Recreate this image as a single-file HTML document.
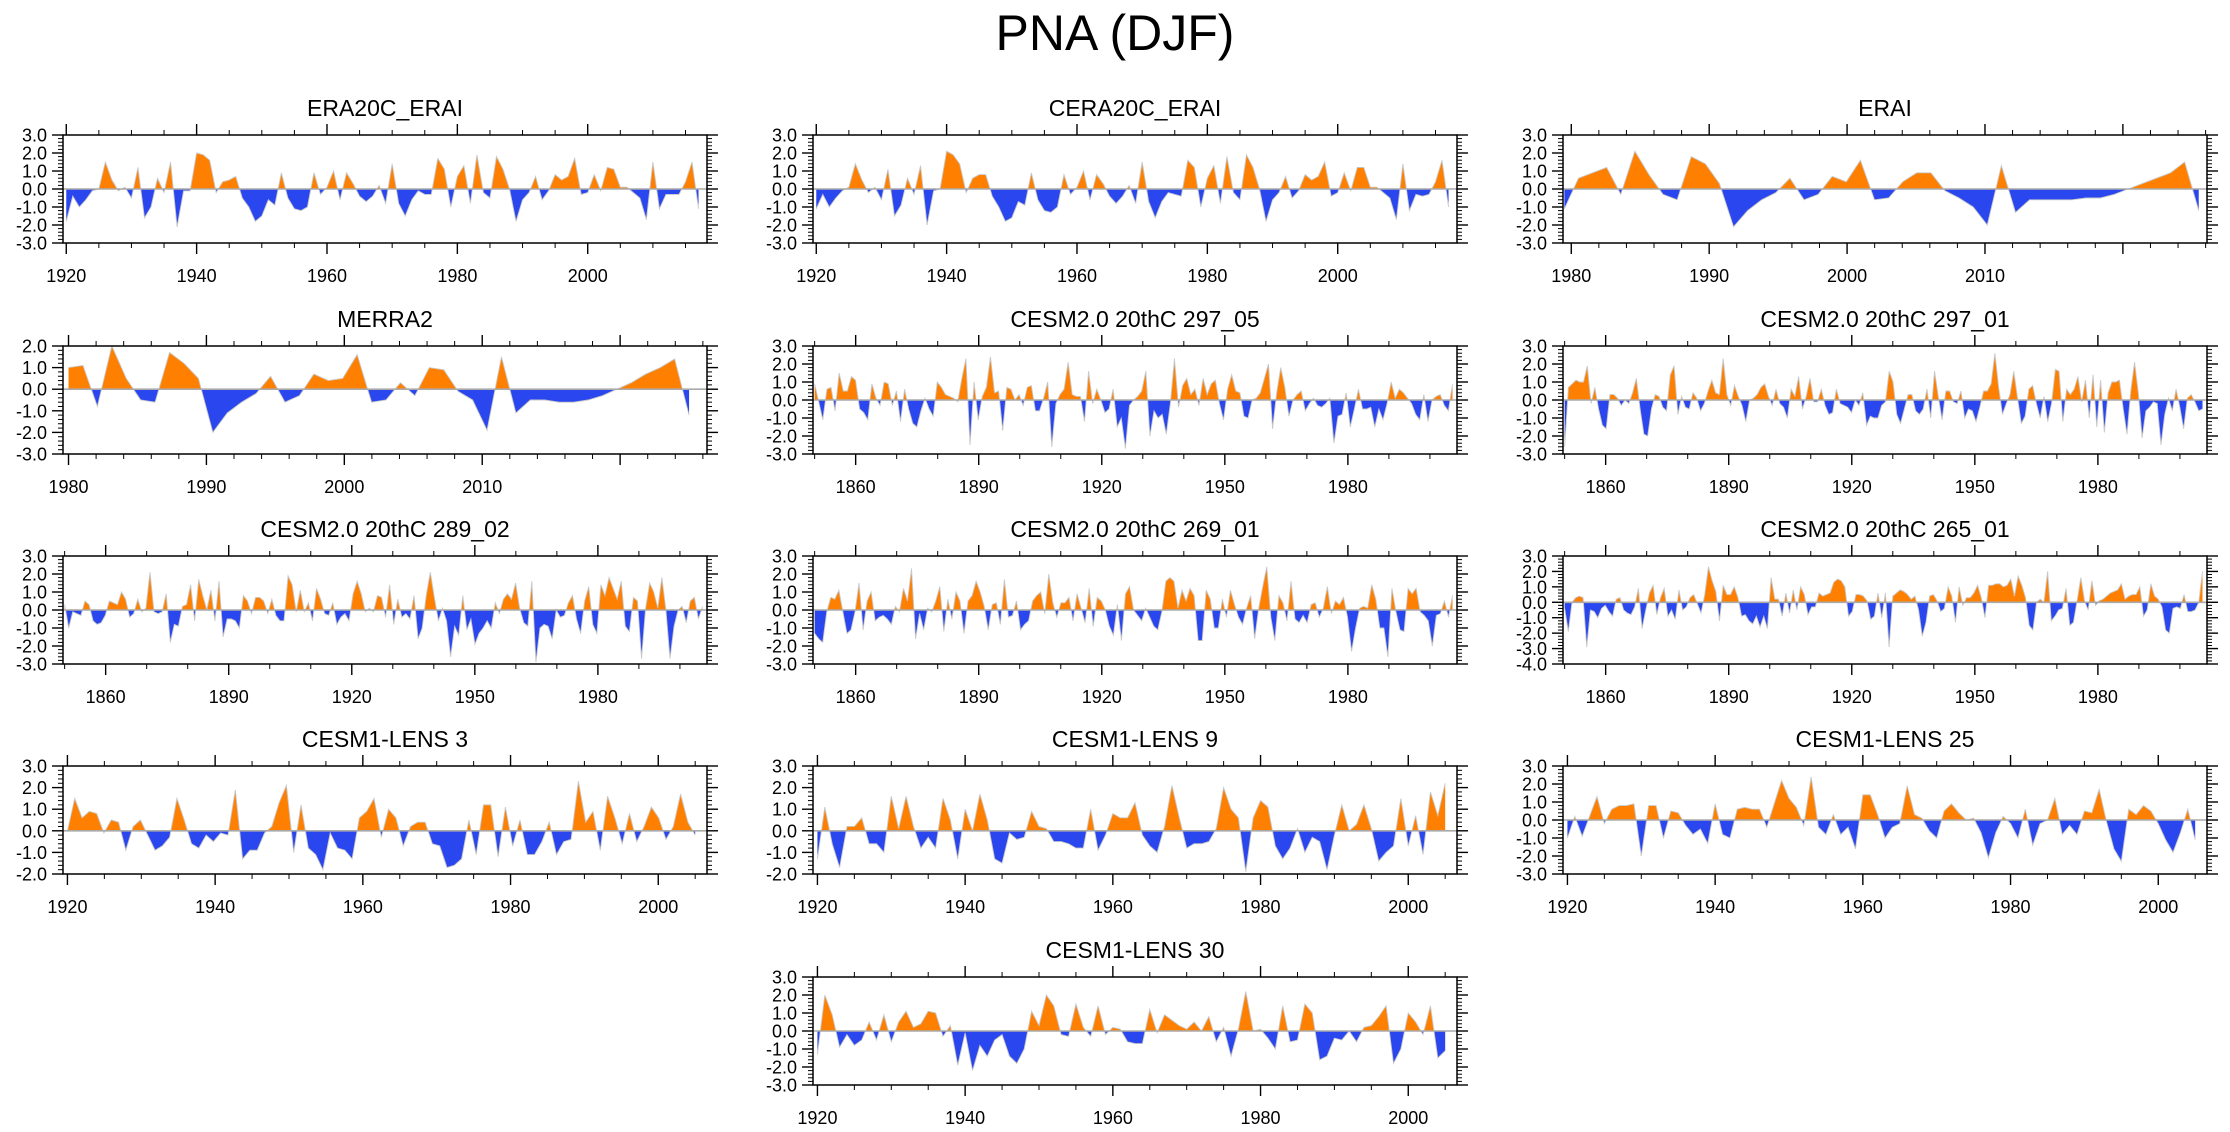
<!DOCTYPE html>
<html><head><meta charset="utf-8"><title>PNA (DJF)</title>
<style>
html,body{margin:0;padding:0;background:#fff;}
svg{display:block;font-family:"Liberation Sans",Arial,sans-serif;}
</style></head>
<body>
<svg id="fig" width="2230" height="1132" viewBox="0 0 2230 1132" xmlns="http://www.w3.org/2000/svg">
<rect width="2230" height="1132" fill="#fff"/>
<text x="1115" y="50" text-anchor="middle" font-size="50" fill="#000">PNA (DJF)</text>
</svg>
<script>
// ---------- data ----------
const era20cVals = [-1.8,-0.4,-1.0,-0.6,-0.1,0.0,1.5,0.5,-0.1,0.1,-0.5,1.2,-1.6,-1.0,0.6,-0.2,1.5,-2.1,-0.1,-0.1,2.0,1.9,1.6,-0.2,0.4,0.5,0.7,-0.5,-1.0,-1.8,-1.5,-0.6,-0.9,0.9,-0.5,-1.1,-1.2,-1.0,0.9,-0.3,0.1,1.0,-0.6,0.9,0.3,-0.4,-0.7,-0.4,0.2,-0.8,1.4,-0.8,-1.5,-0.6,-0.1,-0.3,-0.3,1.7,1.1,-1.0,0.7,1.3,-0.8,1.9,-0.2,-0.5,1.8,1.1,0.0,-1.8,-0.6,-0.2,0.7,-0.6,-0.1,0.8,0.5,0.7,1.7,-0.3,-0.2,0.8,-0.1,1.2,1.1,0.1,0.1,-0.2,-0.5,-1.7,1.5,-1.1,-0.3,-0.3,-0.3,0.4,1.5,-1.1];
const cera20cVals = [-1.1,-0.3,-1.0,-0.5,-0.1,0.1,1.4,0.5,-0.2,0.1,-0.6,1.1,-1.5,-0.9,0.6,-0.3,1.3,-2.0,-0.1,0.0,2.1,1.9,1.4,-0.2,0.6,0.8,0.8,-0.4,-1.0,-1.8,-1.6,-0.7,-0.9,0.9,-0.6,-1.2,-1.3,-1.0,0.8,-0.3,0.1,1.0,-0.6,0.8,0.3,-0.4,-0.8,-0.4,0.2,-0.8,1.5,-0.7,-1.6,-0.7,-0.2,-0.3,-0.4,1.6,1.2,-1.0,0.6,1.3,-0.8,1.8,-0.2,-0.6,1.9,1.2,0.0,-1.8,-0.6,-0.2,0.7,-0.5,-0.1,0.8,0.5,0.7,1.5,-0.4,-0.2,0.9,-0.1,1.2,1.2,0.1,0.1,-0.2,-0.5,-1.7,1.4,-1.2,-0.3,-0.4,-0.3,0.4,1.6,-1.0];
const eraiVals = [-1.1,0.6,0.9,1.2,-0.3,2.1,0.8,-0.3,-0.6,1.8,1.4,0.3,-2.1,-1.2,-0.6,-0.2,0.6,-0.6,-0.3,0.7,0.4,1.6,-0.6,-0.5,0.4,0.9,0.9,-0.1,-0.5,-1.0,-2.0,1.3,-1.3,-0.6,-0.6,-0.6,-0.6,-0.5,-0.5,-0.3,0.0,0.3,0.6,0.9,1.5,-1.2];
const merra2Vals = [1.0,1.1,-0.8,2.0,0.5,-0.5,-0.6,1.7,1.2,0.5,-2.0,-1.1,-0.6,-0.2,0.6,-0.6,-0.3,0.7,0.4,0.5,1.6,-0.6,-0.5,0.3,-0.3,1.0,0.9,-0.1,-0.5,-1.9,1.5,-1.1,-0.5,-0.5,-0.6,-0.6,-0.5,-0.3,0.0,0.3,0.7,1.0,1.4,-1.2];
const c297_05Vals = [0.9,-0.1,-1.1,0.6,0.7,-0.6,1.5,0.5,0.5,1.3,1.1,-0.5,-0.7,-1.1,0.9,0.1,-0.3,1.0,0.9,-0.3,0.5,-1.2,0.6,-0.5,-1.3,-1.5,-0.6,0.1,-0.5,-0.9,1.0,0.7,0.3,0.2,0.1,-0.1,1.2,2.3,-2.5,1.0,-1.1,0.2,0.7,2.4,0.4,0.5,-1.7,0.7,0.6,0.0,0.3,-0.3,0.7,0.8,-0.6,-0.6,0.1,1.0,-2.6,-0.2,0.3,0.6,2.1,0.3,0.2,0.2,-1.2,1.6,-0.2,0.6,0.0,-0.7,-0.5,0.6,-1.5,-1.0,-2.7,-0.3,0.0,0.2,0.5,1.6,-2.0,-0.6,-1.0,-0.8,-1.9,-0.2,2.3,-0.4,0.8,1.2,0.3,0.6,-0.3,1.2,0.3,0.9,1.1,-0.2,-1.1,0.6,1.4,0.5,0.4,-0.9,-1.0,0.0,0.1,0.4,1.2,2.0,-1.6,0.4,1.8,0.7,-0.9,0.0,0.3,0.5,-0.6,-0.2,0.1,-0.3,-0.4,-0.2,0.1,-2.4,-0.9,-0.8,0.4,-1.5,-0.5,0.6,-0.5,-0.5,-0.4,-1.5,-0.5,-1.1,-0.2,1.0,0.1,0.6,0.4,0.1,-0.2,-0.8,-1.1,0.3,-1.2,0.0,0.2,0.3,-0.3,-0.6,0.9];
const c297_01Vals = [-2.6,0.7,0.9,1.1,1.0,1.0,1.9,-0.2,0.7,-0.5,-1.4,-1.6,0.3,0.3,0.1,-0.3,0.0,-0.2,0.4,1.2,-0.5,-1.9,-2.0,-0.5,0.3,0.2,-0.4,-0.6,1.4,1.9,-0.8,0.2,-0.4,-0.5,0.4,0.1,-0.6,-0.2,0.5,1.1,0.4,0.3,2.3,0.3,-0.3,0.8,0.2,-0.3,-1.2,0.0,0.1,0.3,0.7,0.9,0.2,-0.3,0.6,-0.2,-0.4,-1.0,0.6,0.2,1.3,-0.5,0.2,1.2,-0.1,-0.1,0.6,-0.3,-0.8,-0.7,0.6,-0.2,-0.3,-0.4,-0.7,0.0,-0.3,0.4,-1.4,-0.9,-1.0,-1.0,-0.3,-0.1,1.6,1.0,-0.8,-1.3,-0.5,0.3,0.3,-0.6,-0.8,-0.5,0.6,-1.0,1.6,0.2,-1.1,0.5,0.5,-0.1,-0.2,0.5,-1.0,-0.5,-0.6,-1.2,-0.4,0.5,0.5,0.9,2.6,0.7,-0.8,-0.2,0.3,1.6,0.1,-1.3,-0.9,0.6,0.8,-0.2,-1.0,0.2,-1.2,-0.2,1.7,1.6,-1.2,0.6,0.3,0.6,1.3,-0.1,1.1,-1.0,1.4,-1.5,1.1,-1.8,0.4,1.0,1.0,1.1,-0.5,-1.9,0.5,2.1,0.4,-2.1,-0.6,-0.4,-0.1,-0.2,-2.5,-0.8,0.1,-0.6,0.6,-0.4,-1.6,0.1,0.3,-0.1,-0.6,-0.5];
const c289_02Vals = [0.3,-1.0,-0.1,-0.2,-0.3,0.5,0.3,-0.6,-0.8,-0.7,-0.3,0.5,0.4,0.3,1.0,0.6,-0.4,-0.2,0.6,-0.1,0.1,2.1,-0.1,-0.2,-0.1,0.9,-1.8,-0.8,-0.9,0.2,0.3,1.4,-0.6,1.7,0.8,0.0,1.1,-0.6,1.6,-1.5,-0.5,-0.5,-0.6,-1.0,0.8,0.5,-0.2,0.7,0.7,0.5,-0.2,0.6,-0.3,-0.6,-0.6,1.9,1.4,-0.1,1.1,-0.1,0.4,-0.6,1.2,0.6,-0.2,-0.3,0.4,-0.8,-0.4,-0.2,-0.6,0.9,1.6,0.9,-0.1,0.1,-0.1,0.8,0.7,-0.4,1.4,-0.8,0.6,-0.4,-0.2,-0.5,0.8,-1.6,-1.0,0.8,2.1,0.7,-0.6,0.1,-0.6,-2.6,-0.9,-1.4,0.8,-1.1,-0.5,-1.9,-1.3,-1.0,-0.6,-1.0,0.4,-0.2,0.6,0.9,0.6,1.5,0.1,-0.7,-0.9,1.6,-2.9,-1.0,-0.8,-0.9,-1.6,0.0,-0.4,-0.3,0.4,0.8,-0.5,-1.3,0.5,1.3,-0.8,-1.3,1.4,0.8,1.8,1.2,0.6,1.6,-0.9,-1.2,0.7,0.5,-2.7,0.1,1.5,1.0,0.1,1.8,0.0,-2.7,-0.9,0.0,0.2,-0.7,0.5,0.7,-0.5,0.2];
const c269_01Vals = [-1.3,-1.6,-1.8,-0.1,0.7,0.6,1.1,-0.1,-1.3,-1.1,-0.1,1.5,-1.1,0.5,1.0,-0.6,-0.4,-0.3,-0.5,-0.8,0.2,-0.1,1.2,0.5,2.3,-1.6,-0.2,-1.1,0.1,-0.1,0.5,1.3,-1.2,0.6,-0.5,1.0,0.5,-1.3,0.5,0.8,1.6,1.0,0.2,-1.1,0.3,0.4,-0.8,1.7,-0.4,-0.3,0.5,-1.1,-0.8,-0.6,0.5,0.8,1.0,-0.2,2.0,0.4,-0.4,0.4,0.4,0.7,-0.6,0.9,0.1,-0.7,1.2,-0.9,0.7,0.5,0.0,-0.9,-1.4,0.3,-1.7,0.9,1.3,0.0,-0.3,-0.6,0.1,-0.4,-0.9,-1.1,-0.1,1.6,1.8,1.6,0.1,1.1,0.5,1.2,0.8,-1.7,-1.7,1.1,0.6,-1.0,-1.0,0.6,-0.4,1.1,0.3,-0.4,-0.8,0.1,0.8,-1.6,0.1,1.3,2.4,-0.4,-1.7,0.8,0.4,-0.6,1.6,-0.5,-0.7,-0.3,-0.7,0.3,0.4,-0.4,0.1,1.3,-0.2,0.5,0.3,0.7,-0.4,-2.3,-1.0,0.1,0.2,0.1,1.4,0.6,-1.0,-1.0,-2.6,1.2,-0.1,-1.1,-1.2,1.2,0.9,1.2,-0.1,-0.3,-0.6,-2.0,-0.3,-0.2,0.5,-0.4,0.8];
const c265_01Vals = [-0.4,-1.9,0.0,0.3,0.4,0.3,-2.9,-0.5,-0.6,-1.0,-0.4,-0.2,-0.6,-0.9,0.2,0.3,-0.5,-0.7,-0.8,-0.3,0.9,-1.7,-0.5,0.6,1.1,-0.8,0.3,0.9,-0.9,-0.5,-1.1,0.8,-0.5,-0.3,0.3,0.5,-0.1,-0.7,0.5,2.3,1.4,0.7,-1.2,1.1,0.5,0.5,1.0,0.3,-0.9,-0.8,-1.2,-1.4,-0.9,-1.6,-0.9,-1.7,1.6,0.2,0.2,-0.9,0.6,-0.7,0.8,-0.5,1.0,0.5,-0.8,-0.3,-0.3,0.6,0.4,0.5,0.6,1.3,1.5,1.4,1.0,-0.9,-0.6,0.5,0.5,0.4,0.1,-1.1,-0.9,0.6,-1.0,0.6,-2.9,0.4,0.6,0.8,0.7,0.5,0.2,0.4,-0.5,-2.2,-1.3,0.4,0.5,0.1,-0.6,-0.4,1.0,0.4,-1.3,1.0,-0.2,0.3,0.3,0.6,1.1,0.3,-1.0,1.1,1.1,1.2,1.2,1.0,1.1,1.5,0.4,1.7,1.1,0.3,-1.5,-1.8,0.0,0.2,0.0,2.0,-1.2,-0.9,-0.5,-0.4,0.9,-1.5,-1.3,0.1,1.6,0.1,-0.5,1.4,-0.2,0.1,0.2,0.4,0.6,0.7,0.8,1.2,0.2,0.4,0.5,0.5,1.0,-0.9,-0.5,1.2,0.4,0.2,-0.3,-1.8,-2.0,-0.4,-0.3,-0.4,0.5,-0.6,-0.6,-0.5,0.0,2.0];
const lens3Vals = [0.0,1.5,0.6,0.9,0.8,-0.1,0.5,0.4,-0.9,0.2,0.5,-0.2,-0.9,-0.7,-0.3,1.5,0.5,-0.6,-0.8,-0.2,-0.5,-0.1,-0.2,1.9,-1.3,-0.9,-0.9,-0.1,0.2,1.3,2.1,-1.0,1.2,-0.8,-1.1,-1.8,-0.1,-0.8,-0.9,-1.3,0.6,0.9,1.5,-0.3,1.0,0.6,-0.7,0.2,0.4,0.4,-0.6,-0.7,-1.7,-1.6,-1.3,0.5,-1.1,1.2,1.2,-1.2,1.1,-0.7,0.5,-1.1,-1.1,-0.5,0.4,-1.1,-0.5,-0.4,2.3,0.4,0.9,-0.9,1.6,0.6,-0.6,0.8,-0.5,0.2,1.1,0.6,-0.4,0.2,1.7,0.4,-0.2];
const lens9Vals = [-1.3,1.1,-0.6,-1.7,0.2,0.2,0.6,-0.6,-0.6,-1.0,1.6,0.1,1.6,0.2,-0.8,-0.3,-0.8,1.5,0.5,-1.3,1.0,0.0,1.7,0.5,-1.3,-1.5,-0.1,-0.4,-0.3,0.9,0.2,0.1,-0.5,-0.5,-0.6,-0.8,-0.8,1.0,-0.9,-0.2,0.8,0.6,0.6,1.3,-0.2,-0.7,-1.0,0.2,2.1,0.6,-0.8,-0.6,-0.6,-0.5,0.1,2.0,1.0,0.6,-1.9,0.6,1.4,1.1,-0.7,-1.3,-0.8,0.1,-1.0,-0.3,-0.5,-1.8,-0.2,1.2,0.0,0.3,1.2,0.1,-1.4,-1.0,-0.7,1.5,-0.7,0.7,-1.1,1.8,0.7,2.2];
const lens25Vals = [-1.0,0.2,-0.9,0.2,1.3,-0.2,0.6,0.8,0.8,0.9,-2.0,0.8,0.8,-1.0,0.5,0.4,-0.3,-0.8,-0.5,-1.3,0.9,-0.8,-1.0,0.6,0.7,0.6,0.6,-0.4,0.9,2.2,1.2,0.7,-0.3,2.4,-0.4,-0.8,0.3,-0.8,-0.4,-1.6,1.4,1.4,0.3,-1.0,-0.4,-0.2,1.9,0.3,0.1,-0.6,-1.0,0.5,0.9,0.4,0.0,0.1,-0.7,-2.1,-0.7,0.2,-0.2,-1.0,0.6,-1.4,-0.2,0.0,1.2,-0.8,-0.3,-0.8,0.5,0.4,1.7,-0.1,-1.6,-2.3,0.6,0.3,0.8,0.5,-0.2,-1.1,-1.8,-0.7,0.6,-1.1];
const lens30Vals = [-1.3,2.0,0.9,-0.9,-0.2,-0.8,-0.5,0.5,-0.5,0.9,-0.6,0.5,1.1,0.2,0.4,1.1,1.0,-0.3,0.3,-1.9,-0.1,-2.2,-0.8,-1.4,-0.5,-0.2,-1.4,-1.8,-1.0,1.1,0.3,2.0,1.4,-0.2,-0.3,1.5,0.2,-0.3,1.4,-0.2,0.2,0.1,-0.6,-0.7,-0.7,1.2,-0.1,0.9,0.6,0.3,0.1,0.5,0.0,0.8,-0.6,0.2,-1.4,0.1,2.2,0.0,0.1,-0.4,-1.0,1.4,-0.6,-0.5,1.5,1.0,-1.6,-1.4,-0.4,-0.5,0.0,-0.6,0.2,0.3,0.8,1.4,-1.8,-1.0,1.0,0.5,-0.2,1.4,-1.5,-1.1];

const ticks20 = [1920,1940,1960,1980,2000];
const ticksERAI = [1980,1990,2000,2010];
const ticksCESM2 = [1860,1890,1920,1950,1980];

// ---------- layout ----------
const colX = [63, 813, 1563];
const rowY = [135, 346, 556, 766, 977];
const BW = 644, BH = 108;
const panels = [
 {name:'era20c-erai', title:'ERA20C_ERAI', c:0, r:0, vals:era20cVals, dom:[1919.5,2018.3], span:[1920,2017], yr:[-3,3], ticks:ticks20, minor:5},
 {name:'cera20c-erai', title:'CERA20C_ERAI', c:1, r:0, vals:cera20cVals, dom:[1919.5,2018.3], span:[1920,2017], yr:[-3,3], ticks:ticks20, minor:5},
 {name:'erai', title:'ERAI', c:2, r:0, vals:eraiVals, dom:[1979.4,2026.1], span:[1979.5,2025.5], yr:[-3,3], ticks:ticksERAI, minor:2},
 {name:'merra2', title:'MERRA2', c:0, r:1, vals:merra2Vals, dom:[1979.6,2026.3], span:[1980,2025], yr:[-3,2], ticks:ticksERAI, minor:2},
 {name:'cesm2-297-05', title:'CESM2.0 20thC 297_05', c:1, r:1, vals:c297_05Vals, dom:[1849.6,2006.6], span:[1850,2005.5], yr:[-3,3], ticks:ticksCESM2, minor:10},
 {name:'cesm2-297-01', title:'CESM2.0 20thC 297_01', c:2, r:1, vals:c297_01Vals, dom:[1849.6,2006.6], span:[1850,2005.5], yr:[-3,3], ticks:ticksCESM2, minor:10},
 {name:'cesm2-289-02', title:'CESM2.0 20thC 289_02', c:0, r:2, vals:c289_02Vals, dom:[1849.6,2006.6], span:[1850,2005.5], yr:[-3,3], ticks:ticksCESM2, minor:10},
 {name:'cesm2-269-01', title:'CESM2.0 20thC 269_01', c:1, r:2, vals:c269_01Vals, dom:[1849.6,2006.6], span:[1850,2005.5], yr:[-3,3], ticks:ticksCESM2, minor:10},
 {name:'cesm2-265-01', title:'CESM2.0 20thC 265_01', c:2, r:2, vals:c265_01Vals, dom:[1849.6,2006.6], span:[1850,2005.5], yr:[-4,3], ticks:ticksCESM2, minor:10},
 {name:'cesm1-lens-3', title:'CESM1-LENS 3', c:0, r:3, vals:lens3Vals, dom:[1919.4,2006.6], span:[1920,2005], yr:[-2,3], ticks:ticks20, minor:5},
 {name:'cesm1-lens-9', title:'CESM1-LENS 9', c:1, r:3, vals:lens9Vals, dom:[1919.4,2006.6], span:[1920,2005], yr:[-2,3], ticks:ticks20, minor:5},
 {name:'cesm1-lens-25', title:'CESM1-LENS 25', c:2, r:3, vals:lens25Vals, dom:[1919.4,2006.6], span:[1920,2005], yr:[-3,3], ticks:ticks20, minor:5},
 {name:'cesm1-lens-30', title:'CESM1-LENS 30', c:1, r:4, vals:lens30Vals, dom:[1919.4,2006.6], span:[1920,2005], yr:[-3,3], ticks:ticks20, minor:5}
];

const NS = 'http://www.w3.org/2000/svg';
const svg = document.getElementById('fig');
function mk(tag, attrs, parent){
  const e = document.createElementNS(NS, tag);
  for (const k in attrs) e.setAttribute(k, attrs[k]);
  parent.appendChild(e);
  return e;
}
function line(p, x1,y1,x2,y2, w){
  return mk('line',{x1:x1,y1:y1,x2:x2,y2:y2,stroke:'#000','stroke-width':w||1.3},p);
}

panels.forEach(function(P, pi){
  const L = colX[P.c], T = rowY[P.r], R = L + BW, B = T + BH;
  const g = mk('g', {}, svg);
  
  
  const xs = function(yv){ return L + (yv - P.dom[0]) / (P.dom[1] - P.dom[0]) * BW; };
  const ys = function(v){ return B - (v - P.yr[0]) / (P.yr[1] - P.yr[0]) * BH; };

  const t = mk('text', {x:(L+R)/2, y:T-19, 'text-anchor':'middle', 'font-size':23, fill:'#000'}, g);
  t.textContent = P.title;
  
  

  const cp = mk('clipPath', {id:'clip'+pi}, g);
  mk('rect', {x:L, y:T, width:BW, height:BH}, cp);

  const n = P.vals.length;
  const pts = [];
  for (let i = 0; i < n; i++) {
    const yr = P.span[0] + i * (P.span[1] - P.span[0]) / (n - 1);
    pts.push([yr, P.vals[i]]);
  }
  const full = [];
  for (let i = 0; i < n; i++) {
    full.push(pts[i]);
    if (i < n - 1) {
      const a = pts[i], b = pts[i+1];
      if ((a[1] > 0 && b[1] < 0) || (a[1] < 0 && b[1] > 0)) {
        const f = a[1] / (a[1] - b[1]);
        full.push([a[0] + f * (b[0] - a[0]), 0]);
      }
    }
  }
  const z = ys(0);
  let pos = 'M' + xs(full[0][0]).toFixed(2) + ',' + z.toFixed(2);
  let neg = pos;
  let ln = '';
  full.forEach(function(p, k){
    const X = xs(p[0]).toFixed(2);
    pos += 'L' + X + ',' + ys(Math.max(p[1], 0)).toFixed(2);
    neg += 'L' + X + ',' + ys(Math.min(p[1], 0)).toFixed(2);
    ln += (k ? 'L' : 'M') + X + ',' + ys(p[1]).toFixed(2);
  });
  const lastX = xs(full[full.length-1][0]).toFixed(2);
  pos += 'L' + lastX + ',' + z.toFixed(2) + 'Z';
  neg += 'L' + lastX + ',' + z.toFixed(2) + 'Z';
  const sg = mk('g', {'clip-path':'url(#clip'+pi+')'}, g);
  const pa = mk('path', {d:pos, fill:'#ff8000'}, sg);
  
  
  const na = mk('path', {d:neg, fill:'#2a46ee'}, sg);
  
  
  const sl = mk('path', {d:ln, fill:'none', stroke:'#c8c8c8', 'stroke-width':0.9}, sg);
  
  
  const zl = mk('line', {x1:L, y1:z, x2:R, y2:z, stroke:'#aaaaaa', 'stroke-width':1.6}, g);
  
  

  const fr = mk('rect', {x:L, y:T, width:BW, height:BH, fill:'none', stroke:'#000', 'stroke-width':1.5}, g);
  
  

  const yax = mk('g', {}, g);
  
  
  for (let k = Math.round(P.yr[0]*5); k <= Math.round(P.yr[1]*5); k++) {
    const v = k / 5, yy = ys(v);
    const major = (k % 5 === 0);
    const len = major ? 11 : 5;
    line(yax, L - len, yy, L, yy, major ? 1.4 : 1);
    line(yax, R, yy, R + len, yy, major ? 1.4 : 1);
    if (major) {
      const lb = mk('text', {x:L - 16, y:yy + 6.5, 'text-anchor':'end', 'font-size':18, fill:'#000'}, yax);
      lb.textContent = v.toFixed(1);
      
      
    }
  }
  const xax = mk('g', {}, g);
  
  
  const step = P.ticks[1] - P.ticks[0];
  const first = P.ticks[0] - step * 3;
  for (let yv = first; yv <= P.dom[1]; yv += P.minor) {
    if (yv < P.dom[0]) continue;
    const xx = xs(yv);
    const major = ((yv - P.ticks[0]) % step === 0);
    const len = major ? 11 : 5;
    line(xax, xx, T - len, xx, T, major ? 1.4 : 1);
    line(xax, xx, B, xx, B + len, major ? 1.4 : 1);
  }
  P.ticks.forEach(function(tv){
    const lb = mk('text', {x:xs(tv), y:B + 39, 'text-anchor':'middle', 'font-size':18, fill:'#000'}, xax);
    lb.textContent = String(tv);
    
    
  });
});
</script>
</body></html>
